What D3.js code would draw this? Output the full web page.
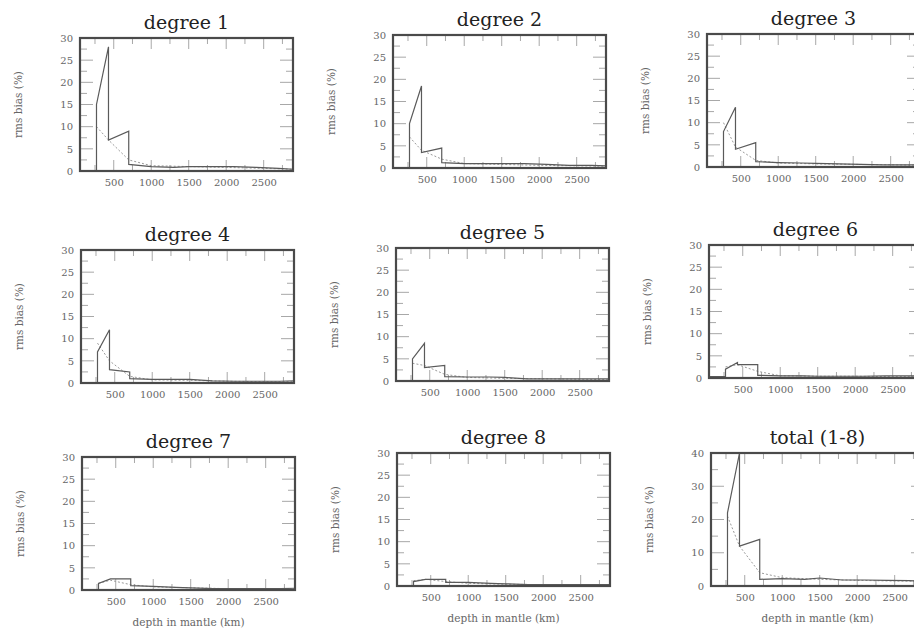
<!DOCTYPE html>
<html>
<head>
<meta charset="utf-8">
<script src="https://cdn.jsdelivr.net/npm/d3@7"></script>
<style>
  body { margin: 0; background: #fff; }
  .title { font-family: "DejaVu Serif", serif; font-size: 19px; fill: #222; }
  .tick-label { font-family: "DejaVu Serif", serif; font-size: 10px; fill: #666; }
  .y-label, .x-label { font-family: "DejaVu Serif", serif; font-size: 10.5px; fill: #666; }
</style>
</head>
<body>
<div id="chart"></div>
<script>
// depth nodes of the solid curve (duplicated depths give the vertical jumps)
const depthNodes = [50, 270, 270, 430, 430, 700, 700, 1000, 1300, 1500, 1800, 2100, 2400, 2700, 2891];
// depth nodes of the dotted (reference) curve
const dotDepths = [270, 430, 700, 1000, 1500, 2000, 2500, 2891];

const panelTitles = ['degree 1', 'degree 2', 'degree 3', 'degree 4', 'degree 5', 'degree 6', 'degree 7', 'degree 8', 'total (1-8)'];

const solidDeg1 = [0, 0, 15, 28, 7, 9, 1.5, 1.0, 0.8, 1.0, 1.0, 1.0, 0.8, 0.6, 0.4];
const solidDeg2 = [0, 0, 10, 18.5, 3.5, 4.5, 1.2, 1.0, 1.0, 1.0, 1.0, 0.8, 0.6, 0.6, 0.5];
const solidDeg3 = [0, 0, 8, 13.5, 4, 5.5, 1.2, 1.0, 0.9, 0.8, 0.7, 0.6, 0.5, 0.5, 0.5];
const solidDeg4 = [0, 0, 7, 12, 3, 2.5, 1.0, 0.8, 0.8, 0.8, 0.5, 0.4, 0.4, 0.4, 0.5];
const solidDeg5 = [0, 0, 5, 8.5, 3, 3.5, 1.0, 0.9, 0.9, 0.8, 0.5, 0.5, 0.5, 0.5, 0.5];
const solidDeg6 = [0.3, 0.3, 2, 3.5, 3, 3, 0.6, 0.5, 0.5, 0.4, 0.4, 0.4, 0.5, 0.5, 0.5];
const solidDeg7 = [0, 0, 1.5, 2.5, 2.5, 2.5, 1.0, 0.8, 0.6, 0.5, 0.3, 0.3, 0.3, 0.3, 0.4];
const solidDeg8 = [0, 0, 1.0, 1.5, 1.5, 1.5, 0.8, 0.8, 0.6, 0.5, 0.3, 0.3, 0.3, 0.3, 0.3];
const solidTotal = [0, 0, 22, 40, 12, 14, 2, 2.2, 2.0, 2.4, 1.8, 1.8, 1.7, 1.6, 1.5];

const dotDeg1 = [10, 7, 2.5, 1.2, 1.0, 0.8, 0.6, 0.4];
const dotDeg2 = [7, 4, 2, 1.0, 0.8, 0.6, 0.5, 0.4];
const dotDeg3 = [10, 4.5, 1.5, 0.9, 0.7, 0.6, 0.5, 0.4];
const dotDeg4 = [9, 5, 1.5, 0.7, 0.6, 0.4, 0.3, 0.3];
const dotDeg5 = [4, 3.5, 1.5, 0.8, 0.6, 0.5, 0.4, 0.3];
const dotDeg6 = [2.5, 3, 1.5, 0.5, 0.4, 0.4, 0.3, 0.3];
const dotDeg7 = [1.5, 2.2, 1.2, 0.7, 0.5, 0.3, 0.3, 0.3];
const dotDeg8 = [1.2, 1.5, 1.0, 0.6, 0.4, 0.3, 0.2, 0.2];
const dotTotal = [21, 12, 4, 2.5, 2.0, 1.7, 1.5, 1.4];

const xTickValues = [500, 1000, 1500, 2000, 2500];
const yMaxes = [30, 30, 30, 30, 30, 30, 30, 30, 40];

const solidSeries = [solidDeg1, solidDeg2, solidDeg3, solidDeg4, solidDeg5, solidDeg6, solidDeg7, solidDeg8, solidTotal];
const dotSeries = [dotDeg1, dotDeg2, dotDeg3, dotDeg4, dotDeg5, dotDeg6, dotDeg7, dotDeg8, dotTotal];

// frame positions of the panels (scan is slightly skewed)
const boxes = [
  {x: 80, y: 38}, {x: 393, y: 35}, {x: 707, y: 34},
  {x: 81, y: 250}, {x: 396, y: 248}, {x: 709, y: 245},
  {x: 82, y: 457}, {x: 397, y: 453}, {x: 711, y: 453}
];

const svg = d3.select('#chart').append('svg')
  .attr('width', 914)
  .attr('height', 635);

svg.append('rect').attr('width', 914).attr('height', 635).attr('fill', '#fff');

class BiasPanel {
  constructor(_config, _data) {
    this.config = {
      x: _config.x,
      y: _config.y,
      width: _config.width || 213,
      height: _config.height || 133,
      title: _config.title,
      yMax: _config.yMax,
      showXLabel: _config.showXLabel
    };
    this.data = _data;
    this.initVis();
  }

  initVis() {
    let vis = this;
    const w = vis.config.width, h = vis.config.height;

    vis.g = svg.append('g')
      .attr('transform', `translate(${vis.config.x},${vis.config.y})`);

    vis.xScale = d3.scaleLinear().domain([50, 2891]).range([0, w]);
    vis.yScale = d3.scaleLinear().domain([0, vis.config.yMax]).range([h, 0]);

    const yStep = vis.config.yMax > 30 ? 10 : 5;
    const yMinor = yStep / 2;

    // inward ticks on all four sides
    const tickCol = '#a8a8a8';
    const xMinorTicks = d3.range(250, 2891, 250);
    const yMinorTicks = d3.range(0, vis.config.yMax + 0.01, yMinor).filter(v => v > 0 && v < vis.config.yMax);

    const ticks = vis.g.append('g').attr('stroke', tickCol).attr('stroke-width', 1);
    xMinorTicks.forEach(v => {
      const len = v % 500 === 0 ? 11 : 6;
      const px = vis.xScale(v);
      ticks.append('line').attr('x1', px).attr('x2', px).attr('y1', 0).attr('y2', len);
      ticks.append('line').attr('x1', px).attr('x2', px).attr('y1', h).attr('y2', h - len);
    });
    yMinorTicks.forEach(v => {
      const len = Math.abs(v % yStep) < 1e-6 ? 13 : 7;
      const py = vis.yScale(v);
      ticks.append('line').attr('x1', 0).attr('x2', len).attr('y1', py).attr('y2', py);
      ticks.append('line').attr('x1', w).attr('x2', w - len).attr('y1', py).attr('y2', py);
    });

    // y axis labels
    const yAxis = d3.axisLeft(vis.yScale)
      .tickValues(d3.range(0, vis.config.yMax + 0.01, yStep))
      .tickFormat(d3.format('d'))
      .tickSize(0)
      .tickPadding(7);
    const yAxisGroup = vis.g.append('g').call(yAxis);
    yAxisGroup.select('.domain').remove();
    yAxisGroup.selectAll('text').attr('class', 'tick-label').attr('fill', null).attr('font-family', null).attr('font-size', null);

    // x axis labels
    const xAxis = d3.axisBottom(vis.xScale)
      .tickValues(xTickValues)
      .tickFormat(d3.format('d'))
      .tickSize(0)
      .tickPadding(8);
    const xAxisGroup = vis.g.append('g')
      .attr('transform', `translate(0,${h})`)
      .call(xAxis);
    xAxisGroup.select('.domain').remove();
    xAxisGroup.selectAll('text').attr('class', 'tick-label').attr('fill', null).attr('font-family', null).attr('font-size', null);

    // dotted reference curve
    const dotLine = d3.line()
      .x((d, i) => vis.xScale(dotDepths[i]))
      .y(d => vis.yScale(d));
    vis.g.append('path')
      .datum(vis.data.dotted)
      .attr('fill', 'none')
      .attr('stroke', '#9a9a9a')
      .attr('stroke-width', 1)
      .attr('stroke-dasharray', '2,2')
      .attr('d', dotLine);

    // solid curve
    const solidLine = d3.line()
      .x((d, i) => vis.xScale(depthNodes[i]))
      .y(d => vis.yScale(Math.min(d, vis.config.yMax)));
    vis.g.append('path')
      .datum(vis.data.solid)
      .attr('fill', 'none')
      .attr('stroke', '#5a5a5a')
      .attr('stroke-width', 1.2)
      .attr('d', solidLine);

    // frame
    vis.g.append('rect')
      .attr('width', w)
      .attr('height', h)
      .attr('fill', 'none')
      .attr('stroke', '#4a4a4a')
      .attr('stroke-width', 2.2);

    // title
    vis.g.append('text')
      .attr('class', 'title')
      .attr('x', w / 2)
      .attr('y', -9)
      .attr('text-anchor', 'middle')
      .text(vis.config.title);

    // y axis title
    vis.g.append('text')
      .attr('class', 'y-label')
      .attr('text-anchor', 'middle')
      .attr('transform', `translate(-58,${h / 2}) rotate(-90)`)
      .text('rms bias (%)');

    if (vis.config.showXLabel) {
      vis.g.append('text')
        .attr('class', 'x-label')
        .attr('text-anchor', 'middle')
        .attr('x', w / 2)
        .attr('y', h + 36)
        .text('depth in mantle (km)');
    }
  }
}

panelTitles.forEach((t, i) => {
  new BiasPanel({
    x: boxes[i].x,
    y: boxes[i].y,
    title: t,
    yMax: yMaxes[i],
    showXLabel: i >= 6
  }, {solid: solidSeries[i], dotted: dotSeries[i]});
});
</script>
</body>
</html>
